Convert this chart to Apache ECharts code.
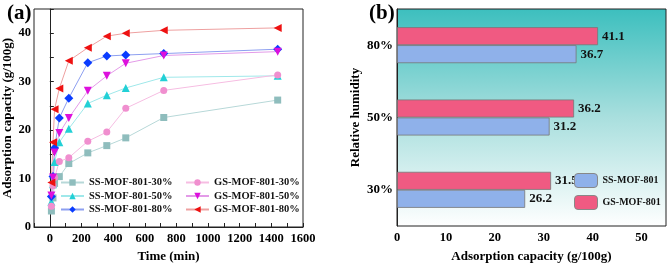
<!DOCTYPE html>
<html>
<head>
<meta charset="utf-8">
<script src="https://cdn.jsdelivr.net/npm/echarts@6/dist/echarts.min.js"></script>
<style>
  html, body { margin: 0; padding: 0; background: #fff; }
  #main { width: 668px; height: 268px; }
</style>
</head>
<body>
<div id="main"></div>
<script>
// time points (min)
var times = [10, 20, 30, 60, 120, 240, 360, 480, 720, 1440];
// adsorption capacity (g/100g)
var ss30 = [3.3, 6.0, 9.0, 10.4, 13.1, 15.3, 16.8, 18.4, 22.6, 26.2];
var ss50 = [5.2, 8.8, 13.4, 17.5, 20.3, 25.5, 27.2, 28.7, 30.9, 31.2];
var ss80 = [6.3, 10.4, 16.3, 22.5, 26.6, 33.9, 35.3, 35.5, 35.8, 36.7];
var gs30 = [4.3, 8.5, 10.2, 13.5, 14.3, 17.7, 19.6, 24.5, 28.2, 31.4];
var gs50 = [6.5, 10.2, 15.4, 19.4, 22.5, 28.1, 31.2, 33.8, 35.4, 36.2];
var gs80 = [9.2, 17.5, 24.3, 28.6, 34.3, 37.0, 39.4, 40.0, 40.6, 41.1];

// panel (b)
var humidity = ['30%', '50%', '80%'];
var ssFinal = [26.2, 31.2, 36.7];
var gsFinal = [31.5, 36.2, 41.1];

var dom = document.getElementById('main');
var myChart = echarts.init(dom);
var font = 'Liberation Serif';

function pairs(v) {
    return times.map(function (t, i) { return [t, v[i]]; });
}

function lineSeries(name, data, symbol, rotate, size, color, lineColor) {
    return {
        name: name,
        type: 'line',
        xAxisIndex: 0,
        yAxisIndex: 0,
        data: pairs(data),
        symbol: symbol,
        symbolRotate: rotate,
        symbolSize: size,
        itemStyle: {color: color},
        lineStyle: {color: lineColor, width: 1},
        emphasis: {disabled: true}
    };
}

var legendText = {fontFamily: font, fontWeight: 'bold', fontSize: 10.5, color: '#111'};
var barLabel = {show: true, position: 'right', distance: 4, fontFamily: font, fontWeight: 'bold', fontSize: 13, color: '#111'};

option = {
    animation: false,
    textStyle: {fontFamily: font},
    title: [
        {text: '(a)', left: 2, top: -2, textStyle: {fontFamily: font, fontWeight: 'bold', fontSize: 21, color: '#000'}},
        {text: '(b)', left: 364, top: -2, textStyle: {fontFamily: font, fontWeight: 'bold', fontSize: 21, color: '#000'}}
    ],
    legend: [
        {
            data: ['SS-MOF-801-30%', 'SS-MOF-801-50%', 'SS-MOF-801-80%'],
            orient: 'vertical', left: 60, top: 177, padding: 0,
            itemWidth: 23, itemHeight: 8, itemGap: 2.5,
            textStyle: legendText
        },
        {
            data: ['GS-MOF-801-30%', 'GS-MOF-801-50%', 'GS-MOF-801-80%'],
            orient: 'vertical', left: 185, top: 177, padding: 0,
            itemWidth: 23, itemHeight: 8, itemGap: 2.5,
            textStyle: legendText
        },
        {
            data: ['SS-MOF-801', 'GS-MOF-801'],
            orient: 'vertical', left: 574, top: 173, padding: 0,
            itemWidth: 23, itemHeight: 14, itemGap: 7,
            itemStyle: {borderColor: '#888', borderWidth: 1},
            textStyle: {fontFamily: font, fontWeight: 'bold', fontSize: 10, color: '#111'}
        }
    ],
    grid: [
        {left: 34, top: 9, width: 269, height: 218, show: true, borderColor: '#222', borderWidth: 1},
        {
            left: 397, top: 9, width: 269, height: 217, show: true, borderColor: '#222', borderWidth: 1,
            backgroundColor: new echarts.graphic.LinearGradient(0, 0, 0, 1, [
                {offset: 0, color: '#3cbfbe'},
                {offset: 0.5, color: '#a9dfde'},
                {offset: 1, color: '#ffffff'}
            ])
        }
    ],
    xAxis: [
        {
            gridIndex: 0, type: 'value', min: -100, max: 1600, interval: 100,
            name: 'Time (min)', nameLocation: 'middle', nameGap: 23,
            nameTextStyle: {fontFamily: font, fontWeight: 'bold', fontSize: 13, color: '#000'},
            axisLine: {lineStyle: {color: '#222'}},
            axisTick: {inside: true, length: 4, lineStyle: {color: '#222'}},
            splitLine: {show: false},
            axisLabel: {
                margin: 5, fontFamily: font, fontWeight: 'bold', fontSize: 12.5, color: '#000',
                formatter: function (v) { return (v >= 0 && v % 200 === 0) ? v : ''; }
            }
        },
        {
            gridIndex: 1, type: 'value', min: 0, max: 55, interval: 10,
            name: 'Adsorption capacity (g/100g)', nameLocation: 'middle', nameGap: 24,
            nameTextStyle: {fontFamily: font, fontWeight: 'bold', fontSize: 13, color: '#000'},
            axisLine: {lineStyle: {color: '#222'}},
            axisTick: {inside: true, length: 5, lineStyle: {color: '#222'}},
            splitLine: {show: false},
            axisLabel: {
                margin: 5, fontFamily: font, fontWeight: 'bold', fontSize: 12.5, color: '#000',
                showMaxLabel: false
            }
        },
        {
            // minor ticks of panel (b)
            gridIndex: 1, type: 'value', min: 0, max: 55, interval: 2, position: 'bottom',
            axisLine: {show: false},
            axisTick: {inside: true, length: 2.5, lineStyle: {color: '#222'}},
            axisLabel: {show: false},
            splitLine: {show: false}
        }
    ],
    yAxis: [
        {
            gridIndex: 0, type: 'value', min: 0, max: 45, interval: 5,
            name: 'Adsorption capacity (g/100g)', nameLocation: 'middle', nameGap: 17,
            nameTextStyle: {fontFamily: font, fontWeight: 'bold', fontSize: 13, color: '#000'},
            axisLine: {show: true, lineStyle: {color: '#222'}},
            axisTick: {show: true, inside: true, length: 4, lineStyle: {color: '#222'}},
            splitLine: {show: false},
            axisLabel: {
                margin: 3, fontFamily: font, fontWeight: 'bold', fontSize: 12.5, color: '#000',
                formatter: function (v) { return v % 10 === 0 ? v : ''; }
            }
        },
        {
            gridIndex: 1, type: 'category', data: humidity,
            name: 'Relative humidity', nameLocation: 'middle', nameGap: 35,
            nameTextStyle: {fontFamily: font, fontWeight: 'bold', fontSize: 13, color: '#000'},
            axisLine: {show: true, lineStyle: {color: '#222'}},
            axisTick: {show: false},
            splitLine: {show: false},
            axisLabel: {margin: 4, fontFamily: font, fontWeight: 'bold', fontSize: 13, color: '#000'}
        }
    ],
    series: [
        lineSeries('SS-MOF-801-30%', ss30, 'rect', 0, 7, '#8fbdbd', '#b7d8d8'),
        lineSeries('SS-MOF-801-50%', ss50, 'triangle', 0, 8, '#22d0d6', '#9fe8ea'),
        lineSeries('SS-MOF-801-80%', ss80, 'diamond', 0, 9, '#0a3cff', '#8d9ff0'),
        lineSeries('GS-MOF-801-30%', gs30, 'circle', 0, 7, '#f08fcf', '#f6bde2'),
        lineSeries('GS-MOF-801-50%', gs50, 'triangle', 180, 8, '#dd10dd', '#e39be8'),
        lineSeries('GS-MOF-801-80%', gs80, 'triangle', 90, 8, '#ee1111', '#eea0a0'),
        {
            name: 'GS-MOF-801', type: 'bar', xAxisIndex: 1, yAxisIndex: 1,
            data: gsFinal, barWidth: 18, barGap: '0%',
            itemStyle: {color: '#f05a82', borderColor: '#777', borderWidth: 0.8},
            label: barLabel,
            emphasis: {disabled: true}
        },
        {
            name: 'SS-MOF-801', type: 'bar', xAxisIndex: 1, yAxisIndex: 1,
            data: ssFinal, barWidth: 18, barGap: '0%',
            itemStyle: {color: '#8fb1ea', borderColor: '#777', borderWidth: 0.8},
            label: barLabel,
            emphasis: {disabled: true}
        }
    ]
};
if (option && typeof option === 'object') {
    myChart.setOption(option, true);
}
</script>
</body>
</html>
